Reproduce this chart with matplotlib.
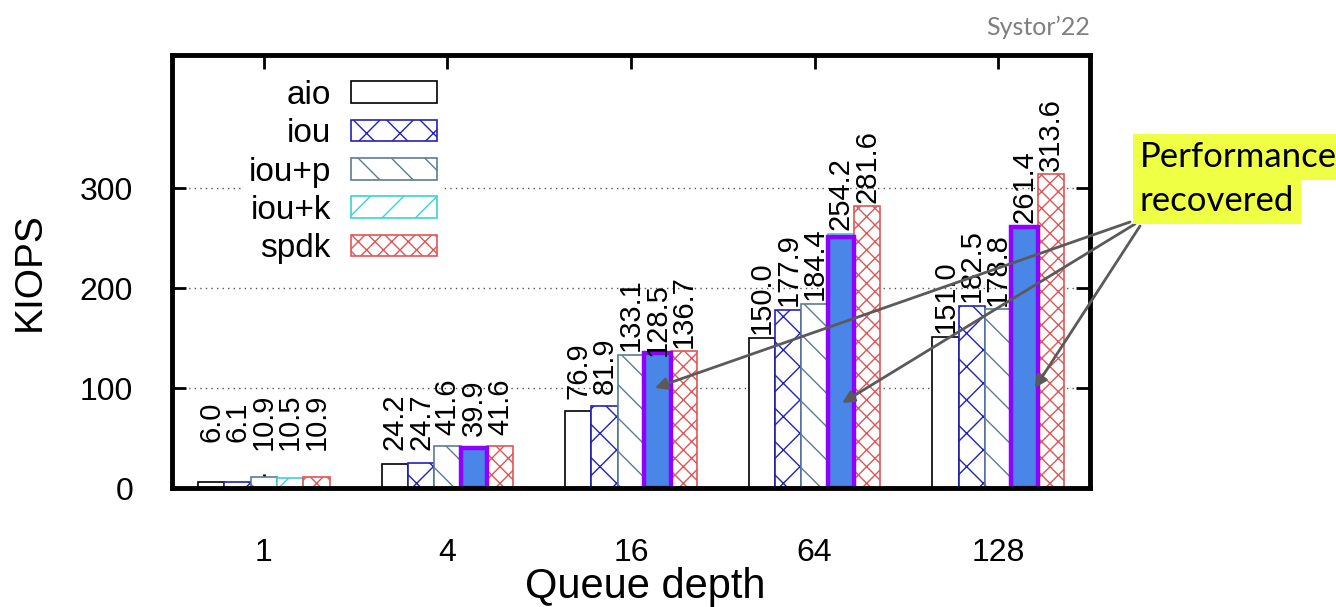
import numpy as np
import matplotlib
matplotlib.use("Agg")
import matplotlib.pyplot as plt

plt.rcParams["font.family"] = ["Liberation Sans", "DejaVu Sans"]
plt.rcParams["hatch.linewidth"] = 1.0

depths = ["1", "4", "16", "64", "128"]
series = ["aio", "iou", "iou+p", "iou+k", "spdk"]
aio = [6.0, 24.2, 76.9, 150.0, 151.0]
iou = [6.1, 24.7, 81.9, 177.9, 182.5]
iou_p = [10.9, 41.6, 133.1, 184.4, 178.8]
iou_k = [10.5, 39.9, 128.5, 254.2, 261.4]
spdk = [10.9, 41.6, 136.7, 281.6, 313.6]

# highlighted iou+k bars (queue depth 4..128)
hl_idx = [1, 2, 3, 4]
hl_vals = [39.9, 135.0, 251.0, 261.4]

edges = ["black", "#2222bb", "#5b7d96", "#38d4d4", "#e05555"]
hatches = [None, "x", "\\", "/", "xx"]

fig = plt.figure(figsize=(13.36, 6.07), dpi=100)
ax = fig.add_axes([172 / 1336, 1 - 488 / 607, 918 / 1336, 433 / 607])

x = np.arange(len(depths))
w = 0.1435
for i, (name, vals) in enumerate(zip(series, [aio, iou, iou_p, iou_k, spdk])):
    pos = x + (i - 2) * w
    ax.bar(pos, vals, w, facecolor="white", edgecolor=edges[i],
           hatch=hatches[i], linewidth=1.2, label=name, zorder=2)
    for px, v in zip(pos, vals):
        ax.text(px, max(v + 40, 66), f"{v:.1f}", rotation=90, ha="center",
                va="center", fontsize=21, zorder=5)

ax.bar(x[hl_idx] + w, hl_vals, w, facecolor="#4a86e8", edgecolor="#8f00ff",
       linewidth=3.2, zorder=3)

ax.set_xlim(-0.5, 4.5)
ax.set_ylim(0, 433)
ax.set_xticks(x)
ax.set_xticklabels(depths)
ax.set_yticks([0, 100, 200, 300])
ax.set_axisbelow(True)
ax.yaxis.grid(True, linestyle=(0, (1, 3)), color="#555555", linewidth=1)
ax.tick_params(axis="both", direction="in", length=10, width=2,
               labelsize=23, top=True, right=True)
ax.tick_params(axis="x", pad=36)
ax.tick_params(axis="y", pad=28)
for s in ax.spines.values():
    s.set_linewidth(3.5)
    s.set_zorder(6)

fig.text(645 / 1336, 1 - 587 / 607, "Queue depth", ha="center", va="center",
         fontsize=30)
fig.text(30 / 1336, 1 - 272 / 607, "KIOPS", ha="center", va="center",
         rotation=90, fontsize=28)

leg = ax.legend(loc="upper left", bbox_to_anchor=(0.076, 0.958), markerfirst=False,
                fontsize=24, handlelength=2.6, handleheight=0.62,
                handletextpad=0.6, labelspacing=0.22, frameon=True,
                fancybox=False, borderaxespad=0, borderpad=0.2)
leg.get_frame().set_edgecolor("none")
leg.get_frame().set_alpha(1)
for t in leg.get_texts():
    t.set_ha("right")

fig.text(1090 / 1336, 1 - 27 / 607, "Systor\u201922", ha="right", va="center",
         fontsize=18, color="#7f7f7f", family=["Lato", "DejaVu Sans"])

for ypix, line in [(157, "Performance"), (201, "recovered")]:
    fig.text(1140 / 1336, 1 - ypix / 607, line, ha="left", va="center",
             fontsize=25, family=["Lato", "DejaVu Sans"],
             bbox=dict(boxstyle="square,pad=0.2", facecolor="#eeff44",
                       edgecolor="none"))

targets = [(2.13, 100), (3.15, 85), (4.2, 100)]
starts = [(1130, 222), (1135, 224), (1140, 226)]
for (tx, ty), (sx, sy) in zip(targets, starts):
    ax.annotate("", xy=(tx, ty), xytext=(sx / 1336, 1 - sy / 607),
                textcoords="figure fraction", annotation_clip=False,
                arrowprops=dict(arrowstyle="-|>", color="#5a5a5a", lw=2,
                                mutation_scale=18, shrinkA=0, shrinkB=0),
                zorder=7)

fig.savefig("out.png", dpi=100)
